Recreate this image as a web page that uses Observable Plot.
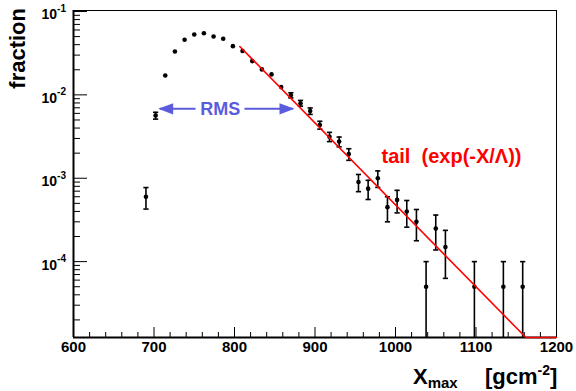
<!DOCTYPE html>
<html>
<head>
<meta charset="utf-8">
<script src="https://cdn.jsdelivr.net/npm/d3@7"></script>
<script src="https://cdn.jsdelivr.net/npm/@observablehq/plot@0.6"></script>
<style>
  html, body { margin: 0; padding: 0; background: #fff; }
  svg { display: block; }
</style>
</head>
<body>
<div id="chart"></div>
<script>
// ---- data ----
const xmaxBins = [690, 702, 714, 726, 738, 750, 762, 774, 786, 798, 810, 822, 834, 846, 858, 870, 882, 894,
                  906, 918, 930, 942, 954, 966, 978, 990, 1002, 1014, 1026, 1038, 1050, 1062, 1098, 1134, 1158];
const fraction = [6.0e-4, 5.65e-3, 0.0171, 0.0331, 0.0458, 0.0530, 0.0549, 0.0502, 0.0471, 0.0384, 0.0336, 0.0254,
                  0.0202, 0.0176, 0.0124, 0.0099, 0.00795, 0.0064, 0.00435, 0.00315, 0.00275, 0.00195,
                  9.0e-4, 7.5e-4, 1.0e-3, 4.5e-4, 5.5e-4, 4.0e-4, 3.0e-4, 5e-5, 2.5e-4, 1.5e-4, 5e-5, 5e-5, 5e-5];
const fracErr = [1.73e-4, 5.3e-4, 9.2e-4, 1.29e-3, 1.51e-3, 1.63e-3, 1.66e-3, 1.58e-3, 1.53e-3, 1.39e-3, 1.30e-3, 1.13e-3,
                 1.0e-3, 9.4e-4, 7.9e-4, 7.0e-4, 6.3e-4, 5.7e-4, 4.7e-4, 4.0e-4, 3.7e-4, 3.1e-4,
                 2.1e-4, 1.94e-4, 2.24e-4, 1.5e-4, 1.66e-4, 1.41e-4, 1.22e-4, 5e-5, 1.12e-4, 8.7e-5, 5e-5, 5e-5, 5e-5];

// exponential tail fit (straight in log space), clipped at the axis minimum
const fitX = [806.6, 1162, 1200];
const fitY = [0.038, 1.23e-5, 1.23e-5];

// RMS arrow annotation
const rmsTipLeft = 705.2, rmsGapLeft = 751.6, rmsGapRight = 812.4, rmsTipRight = 874.5;
const rmsY = 0.00681, rmsTextX = 782.2;
const tailTextX = 982.6, tailTextY = 0.001795;

// axes
const xDomain = [600, 1200];
const yDomain = [1.23e-5, 0.1028];
const xMajor = [600, 700, 800, 900, 1000, 1100, 1200];
const xMinor = d3.range(620, 1200, 20).filter(v => v % 100 !== 0);
const yMajor = [1e-4, 1e-3, 1e-2, 1e-1];
const yExp = ["-4", "-3", "-2", "-1"];
const yMinor = [];
for (const dec of [1e-5, 1e-4, 1e-3, 1e-2]) for (let m = 2; m <= 9; m++) {
  const v = m * dec; if (v >= yDomain[0] && v <= yDomain[1]) yMinor.push(v);
}

// ---- build ----
const W = 576, H = 391, mL = 73, mR = 20, mT = 10, mB = 54;
const innerW = W - mL - mR, innerH = H - mT - mB;
const pxPerDecade = innerH / Math.log10(yDomain[1] / yDomain[0]);
const DOT_R = 2.3;
const FONT = "'Liberation Sans', Arial, Helvetica, sans-serif";
const RMSC = "#5b5bde";

const points = xmaxBins.map((x, i) => {
  const v = fraction[i], e = fracErr[i];
  const halfPx = pxPerDecade * Math.log10((v + e) / v);
  return {x, v, hi: v + e, lo: Math.max(v - e, yDomain[0]), loCap: v - e > yDomain[0], visible: halfPx > DOT_R};
});
const barPts = points.filter(p => p.visible);
const fit = fitX.map((x, i) => ({x, y: fitY[i]}));

const capSym = {draw(ctx) { ctx.moveTo(-2.6, 0); ctx.lineTo(2.6, 0); }};
const headLeft = {draw(ctx) { ctx.moveTo(0, 0); ctx.lineTo(15, -5.6); ctx.lineTo(15, 5.6); ctx.closePath(); }};
const headRight = {draw(ctx) { ctx.moveTo(0, 0); ctx.lineTo(-15, -5.6); ctx.lineTo(-15, 5.6); ctx.closePath(); }};

const chart = Plot.plot({
  width: W, height: H,
  marginLeft: mL, marginRight: mR, marginTop: mT, marginBottom: mB,
  style: {fontFamily: FONT, background: "#fff", overflow: "visible", color: "#000"},
  x: {domain: xDomain},
  y: {type: "log", domain: yDomain, axis: null},
  marks: [
    Plot.frame({stroke: "#000", strokeWidth: 1}),
    // inward ticks
    Plot.tickY(yMinor, {y: d => d, insetRight: innerW - 7, stroke: "#000", strokeWidth: 1}),
    Plot.tickY(yMajor, {y: d => d, insetRight: innerW - 14, stroke: "#000", strokeWidth: 1}),
    Plot.tickX(xMinor, {x: d => d, insetTop: innerH - 5, stroke: "#000", strokeWidth: 1}),
    Plot.tickX(xMajor, {x: d => d, insetTop: innerH - 10, stroke: "#000", strokeWidth: 1}),
    Plot.axisX({ticks: xMajor, tickSize: 0, tickPadding: 4, fontSize: 15, fontWeight: "bold", label: null, tickFormat: d => String(d)}),
    Plot.ruleX([xDomain[0]], {stroke: "#000", strokeWidth: 2}),
    Plot.ruleY([yDomain[0]], {stroke: "#000", strokeWidth: 2}),
    // error bars
    Plot.ruleX(barPts, {x: "x", y1: "lo", y2: "hi", stroke: "#000", strokeWidth: 1.6}),
    Plot.dot(barPts, {x: "x", y: "hi", symbol: capSym, r: 3, stroke: "#000", fill: "none", strokeWidth: 1.6}),
    Plot.dot(barPts.filter(p => p.loCap), {x: "x", y: "lo", symbol: capSym, r: 3, stroke: "#000", fill: "none", strokeWidth: 1.6}),
    Plot.dot(points, {x: "x", y: "v", r: DOT_R, fill: "#000", stroke: "none"}),
    // fit
    Plot.line(fit, {x: "x", y: "y", stroke: "#ff0000", strokeWidth: 1.6}),
    // RMS arrow
    Plot.link([{a: rmsTipLeft + 2, b: rmsGapLeft}, {a: rmsGapRight, b: rmsTipRight - 2}],
      {x1: "a", x2: "b", y1: () => rmsY, y2: () => rmsY, stroke: RMSC, strokeWidth: 2}),
    Plot.dot([{x: rmsTipLeft}], {x: "x", y: () => rmsY, symbol: headLeft, r: 5, fill: RMSC, stroke: "none"}),
    Plot.dot([{x: rmsTipRight}], {x: "x", y: () => rmsY, symbol: headRight, r: 5, fill: RMSC, stroke: "none"}),
    Plot.text(["RMS"], {x: () => rmsTextX, y: () => rmsY, text: d => d, fill: RMSC, fontSize: 18, fontWeight: "bold", textAnchor: "middle"}),
    Plot.text(["tail  (exp(-X/Λ))"], {x: () => tailTextX, y: () => tailTextY, text: d => d, fill: "#ff0000", fontSize: 20, fontWeight: "bold", textAnchor: "start"})
  ]
});

const svg = d3.select(chart);
const sy = chart.scale("y");

// y tick labels with superscript exponents
yMajor.forEach((v, i) => {
  const py = sy.apply(v);
  const t = svg.append("text")
    .attr("x", 66).attr("y", py + 8.5)
    .attr("text-anchor", "end")
    .attr("font-family", FONT).attr("font-weight", "bold").attr("font-size", 14).attr("fill", "#000");
  t.append("tspan").text("10");
  t.append("tspan").attr("font-size", 10).attr("dy", -7.5).text(yExp[i]);
});

// y title
svg.append("text")
  .attr("transform", "translate(25,8) rotate(-90)")
  .attr("text-anchor", "end")
  .attr("font-family", FONT).attr("font-weight", "bold").attr("font-size", 22).attr("fill", "#000")
  .text("fraction");

// x title
const xt = svg.append("text")
  .attr("x", 413).attr("y", 384)
  .attr("text-anchor", "start")
  .attr("font-family", FONT).attr("font-weight", "bold").attr("font-size", 22).attr("fill", "#000");
xt.append("tspan").text("X");
xt.append("tspan").attr("font-size", 15).attr("dy", 4).text("max");
const xu = svg.append("text")
  .attr("x", 485).attr("y", 384)
  .attr("text-anchor", "start")
  .attr("font-family", FONT).attr("font-weight", "bold").attr("font-size", 22).attr("fill", "#000");
xu.append("tspan").text("[gcm");
xu.append("tspan").attr("font-size", 14).attr("dy", -9).text("-2");
xu.append("tspan").attr("dy", 9).text("]");

document.getElementById("chart").appendChild(chart);
</script>
</body>
</html>
